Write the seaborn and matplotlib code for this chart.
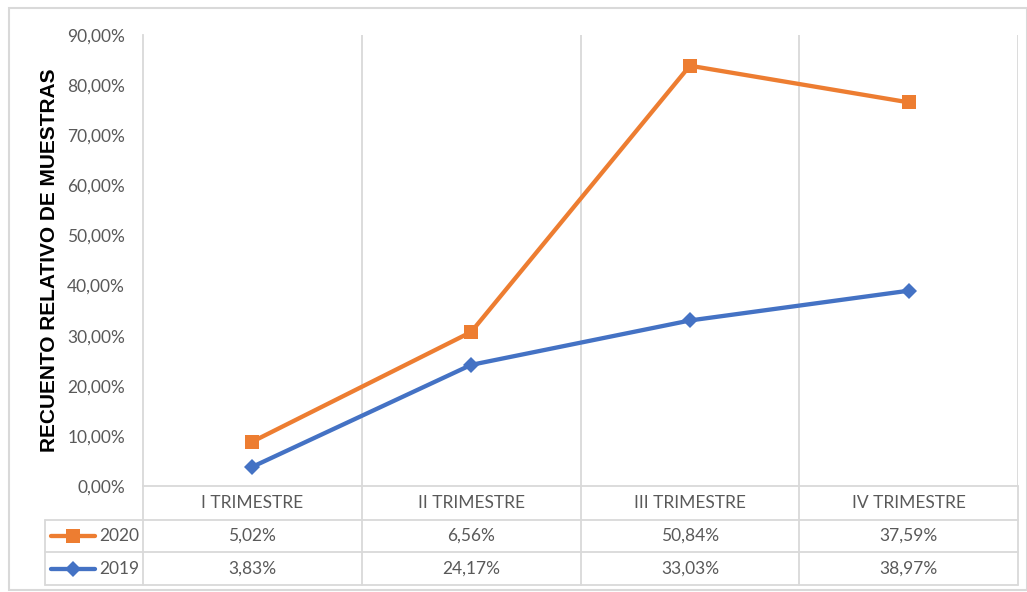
import numpy as np
import pandas as pd
import matplotlib
matplotlib.use("Agg")
import matplotlib.pyplot as plt
from matplotlib.ticker import FuncFormatter, MultipleLocator
from matplotlib.lines import Line2D
from matplotlib.patches import Rectangle
import seaborn as sns

# ------------------------------------------------
# DATA
# ------------------------------------------------
trimestres = ["I TRIMESTRE", "II TRIMESTRE", "III TRIMESTRE", "IV TRIMESTRE"]
series_names = ["2020", "2019"]
values_2020 = [5.02, 6.56, 50.84, 37.59]
values_2019 = [3.83, 24.17, 33.03, 38.97]

ORANGE = "#ED7D31"
BLUE = "#4472C4"
GRID = "#D9D9D9"
TXT = "#595959"

sns.set_style("white")
plt.rcParams['font.family'] = ['Lato', 'DejaVu Sans']

W, H = 1027, 592
fig = plt.figure(figsize=(W / 100, H / 100), dpi=100)

# plot area in pixels
left, right, top, bottom = 143, 1018, 35, 486
ax = fig.add_axes([left / W, 1 - bottom / H, (right - left) / W, (bottom - top) / H])

# stacked line chart (Excel "stacked line"): 2020 line sits on top of 2019
df = pd.DataFrame({"pos": np.arange(len(trimestres)),
                   "2019": values_2019,
                   "2020": values_2020})
df["2020_stack"] = df["2019"] + df["2020"]

sns.lineplot(data=df, x="pos", y="2019", ax=ax, color=BLUE, lw=3.1,
             marker="D", markersize=8.5, markeredgewidth=0)
sns.lineplot(data=df, x="pos", y="2020_stack", ax=ax, color=ORANGE, lw=3.1,
             marker="s", markersize=10.5, markeredgewidth=0)

ax.set_xlim(-0.5, len(trimestres) - 0.5)
ax.set_ylim(0, 90)
ax.yaxis.set_major_locator(MultipleLocator(10))
ax.yaxis.set_major_formatter(FuncFormatter(lambda v, p: f"{v:.2f}".replace(".", ",") + "%"))
ax.set_xticks([])
ax.set_xlabel("")
ax.set_ylabel("RECUENTO RELATIVO DE MUESTRAS", fontsize=15, fontweight="bold",
              color="black", family=["Liberation Sans", "DejaVu Sans"], labelpad=6)
ax.tick_params(axis="y", length=0, pad=13, labelsize=12.5, labelcolor=TXT)
for s in ["top", "right", "bottom"]:
    ax.spines[s].set_visible(False)
ax.spines["left"].set_color(GRID)
ax.spines["left"].set_linewidth(1.3)
for k in range(1, len(trimestres) + 1):
    ax.axvline(k - 0.5, color=GRID, lw=1.3, zorder=0)

# ------------------------------------------------
# DATA TABLE (overlay axes in pixel coordinates)
# ------------------------------------------------
ov = fig.add_axes([0, 0, 1, 1], facecolor="none")
ov.set_xlim(0, W)
ov.set_ylim(H, 0)
ov.axis("off")

ov.add_patch(Rectangle((9, 8), W - 9, H - 10, fill=False, ec=GRID, lw=1.5))

row_y = [486, 520, 552, 585]
tbl_left = 45
colw = (right - left) / len(trimestres)
# horizontal lines
ov.plot([left, right], [row_y[0], row_y[0]], color=GRID, lw=1.3)
for y in row_y[1:]:
    ov.plot([tbl_left, right], [y, y], color=GRID, lw=1.3)
# vertical lines
ov.plot([tbl_left, tbl_left], [row_y[1], row_y[3]], color=GRID, lw=1.3)
for k in range(len(trimestres) + 1):
    x = left + k * colw
    ov.plot([x, x], [row_y[0], row_y[3]], color=GRID, lw=1.3)

def fmt(v):
    return f"{v:.2f}".replace(".", ",") + "%"

for i, t in enumerate(trimestres):
    cx = left + (i + 0.5) * colw
    ov.text(cx, (row_y[0] + row_y[1]) / 2, t, ha="center", va="center",
            fontsize=12.5, color=TXT)
    ov.text(cx, (row_y[1] + row_y[2]) / 2, fmt(values_2020[i]), ha="center",
            va="center", fontsize=12.5, color=TXT)
    ov.text(cx, (row_y[2] + row_y[3]) / 2, fmt(values_2019[i]), ha="center",
            va="center", fontsize=12.5, color=TXT)

# legend keys inside the table
for name, color, mk, ms, r in [(series_names[0], ORANGE, "s", 10.5, 1),
                              (series_names[1], BLUE, "D", 8.5, 2)]:
    yc = (row_y[r] + row_y[r + 1]) / 2
    ov.add_line(Line2D([51, 95], [yc, yc], color=color, lw=3.1))
    ov.plot([73], [yc], marker=mk, markersize=ms, color=color, markeredgewidth=0)
    ov.text(139, yc, name, ha="right", va="center", fontsize=12.5, color=TXT)

fig.savefig("out.png", dpi=100)
